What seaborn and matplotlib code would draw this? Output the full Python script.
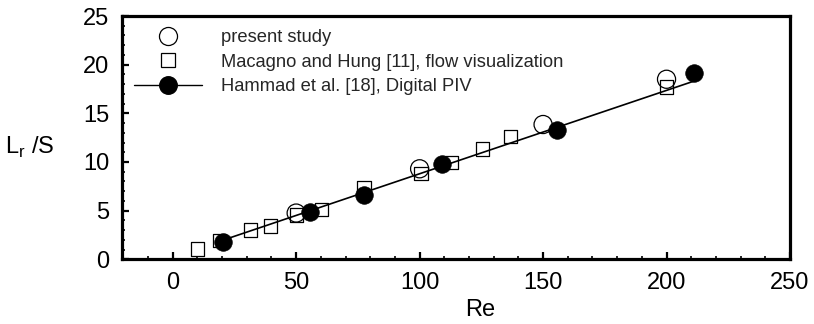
import matplotlib
matplotlib.use("Agg")
import matplotlib.pyplot as plt
import seaborn as sns
import pandas as pd
from matplotlib.lines import Line2D
from matplotlib.ticker import MultipleLocator

# ---- data ----
present_re = [50, 100, 150, 200]
present_lr = [4.75, 9.3, 13.85, 18.5]

macagno_re = [10, 19, 31.5, 39.7, 50, 60.3, 77.5, 100.6, 113, 125.6, 136.8, 200]
macagno_lr = [1.05, 1.95, 3.02, 3.42, 4.55, 5.15, 7.32, 8.8, 9.95, 11.33, 12.65, 17.7]

hammad_re = [20.5, 55.5, 77.5, 109, 155.8, 211]
hammad_lr = [1.78, 4.9, 6.6, 9.8, 13.25, 19.15]

fit_re = [20.5, 211]
fit_lr = [1.98, 18.3]

labels = ["present study",
          "Macagno and Hung [11], flow visualization",
          "Hammad et al. [18], Digital PIV"]

sns.set_theme(style="ticks")
plt.rcParams["font.family"] = ["Liberation Sans", "DejaVu Sans"]
plt.rcParams["mathtext.fontset"] = "custom"
plt.rcParams["mathtext.rm"] = "Liberation Sans"

fig = plt.figure(figsize=(8.14, 3.24), dpi=100)
ax = fig.add_axes([0.150, 0.1997, 0.8205, 0.7509])

df_fit = pd.DataFrame({"Re": fit_re, "Lr": fit_lr})
df_p = pd.DataFrame({"Re": present_re, "Lr": present_lr})
df_m = pd.DataFrame({"Re": macagno_re, "Lr": macagno_lr})
df_h = pd.DataFrame({"Re": hammad_re, "Lr": hammad_lr})

sns.lineplot(data=df_fit, x="Re", y="Lr", ax=ax, color="black", lw=1.2, zorder=2)
sns.scatterplot(data=df_m, x="Re", y="Lr", ax=ax, marker="s", s=92,
                facecolor="none", edgecolor="black", linewidth=0.9, zorder=3)
sns.scatterplot(data=df_p, x="Re", y="Lr", ax=ax, marker="o", s=170,
                facecolor="none", edgecolor="black", linewidth=0.9, zorder=3)
sns.scatterplot(data=df_h, x="Re", y="Lr", ax=ax, marker="o", s=160,
                color="black", edgecolor="black", linewidth=0.5, zorder=4)

ax.set_xlim(-20.5, 250)
ax.set_ylim(0, 25)
ax.xaxis.set_major_locator(MultipleLocator(50))
ax.xaxis.set_minor_locator(MultipleLocator(10))
ax.yaxis.set_major_locator(MultipleLocator(5))
ax.yaxis.set_minor_locator(MultipleLocator(1))

for sp in ax.spines.values():
    sp.set_visible(True)
    sp.set_linewidth(2.3)
    sp.set_color("black")

ax.tick_params(which="major", direction="in", length=5, width=1.6,
               labelsize=17, colors="black", pad=9)
ax.tick_params(which="minor", direction="in", length=2.5, width=1.2, colors="black")
ax.tick_params(top=False, right=False, which="both")

ax.set_xlabel("Re", fontsize=17, color="black")
ax.set_ylabel(r"L$_\mathregular{r}$ /S", fontsize=17, rotation=0, color="black")
ax.xaxis.set_label_coords(0.536, -0.165)
ax.yaxis.set_label_coords(-0.138, 0.46)
ax.yaxis.label.set_va("center")
ax.yaxis.label.set_ha("center")

handles = [
    Line2D([], [], marker="o", ms=13, mfc="none", mec="black", mew=0.9, ls="none"),
    Line2D([], [], marker="s", ms=9.6, mfc="none", mec="black", mew=0.9, ls="none"),
    Line2D([], [], marker="o", ms=12.6, mfc="black", mec="black", color="black", lw=1.0, ls="-"),
]
ax.legend(handles, labels, loc="upper left", bbox_to_anchor=(0.018, 0.945),
          frameon=False, fontsize=13.2, handlelength=3.7, handletextpad=1.05,
          labelspacing=0.4, borderpad=0, borderaxespad=0)

fig.savefig("out.png", dpi=100, facecolor="white")
